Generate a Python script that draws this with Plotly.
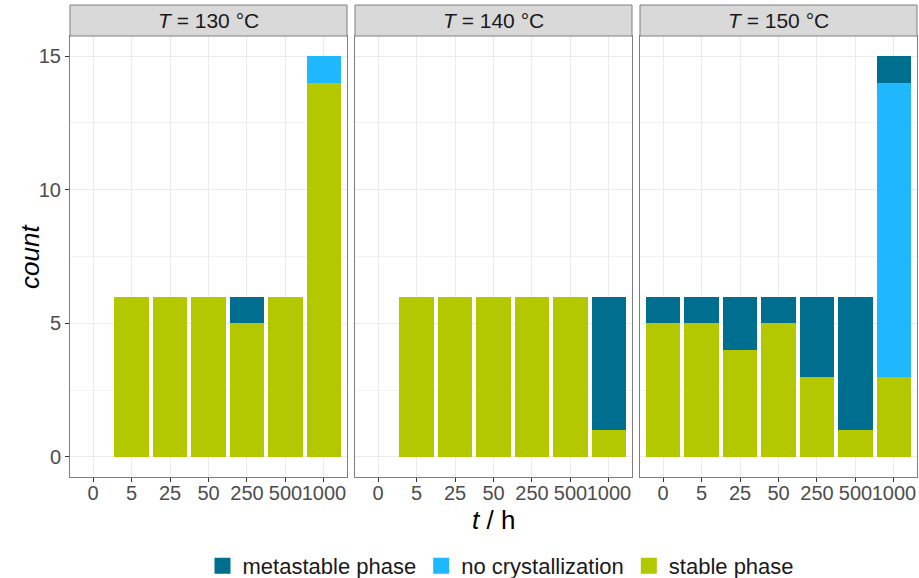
import plotly.graph_objects as go

# Crystallization outcome counts per storage time, one panel per temperature
times = ["0", "5", "25", "50", "250", "500", "1000"]
temperatures = ["130", "140", "150"]

stable_130 = [0, 6, 6, 6, 5, 6, 14]
nocryst_130 = [0, 0, 0, 0, 0, 0, 1]
meta_130 = [0, 0, 0, 0, 1, 0, 0]

stable_140 = [0, 6, 6, 6, 6, 6, 1]
nocryst_140 = [0, 0, 0, 0, 0, 0, 0]
meta_140 = [0, 0, 0, 0, 0, 0, 5]

stable_150 = [5, 5, 4, 5, 3, 1, 3]
nocryst_150 = [0, 0, 0, 0, 0, 0, 11]
meta_150 = [1, 1, 2, 1, 3, 5, 1]

series_names = ["stable phase", "no crystallization", "metastable phase"]
series_colors = ["#b4c800", "#1fb8ff", "#006e8f"]
legend_rank = [3, 2, 1]

panels = [
    [stable_130, nocryst_130, meta_130],
    [stable_140, nocryst_140, meta_140],
    [stable_150, nocryst_150, meta_150],
]

W, H = 919, 578
font_family = "Liberation Sans, Arial, sans-serif"

# panel geometry in pixels
panel_x = [(70, 347), (355, 632), (640, 917)]
plot_top, plot_bottom = 36, 477
strip_top = 5


def px_x(p):
    return p / W


def px_y(p):
    return (H - p) / H


fig = go.Figure()

for i, data in enumerate(panels):
    suffix = "" if i == 0 else str(i + 1)
    for j, vals in enumerate(data):
        fig.add_trace(go.Bar(
            x=times, y=vals,
            name=series_names[j],
            marker=dict(color=series_colors[j], line=dict(width=0)),
            xaxis="x" + suffix, yaxis="y" + suffix,
            legendgroup=series_names[j],
            showlegend=False,
        ))

# legend entries drawn as large square keys
for j, name in enumerate(series_names):
    fig.add_trace(go.Scatter(
        x=[None], y=[None], mode="markers", name=name,
        marker=dict(symbol="square", size=16, color=series_colors[j],
                    line=dict(width=0)),
        legendgroup=name, legendrank=legend_rank[j], showlegend=True,
        xaxis="x", yaxis="y",
    ))

layout = dict(
    width=W, height=H,
    margin=dict(l=0, r=0, t=0, b=0, autoexpand=False),
    paper_bgcolor="white", plot_bgcolor="white",
    barmode="stack", bargap=0.1,
    font=dict(family=font_family, color="#1a1a1a"),
    legend=dict(
        orientation="h", x=px_x(501), xanchor="center",
        y=px_y(566), yanchor="middle",
        font=dict(size=22, color="#1a1a1a"), itemwidth=30,
        itemsizing="trace", traceorder="normal",
    ),
    showlegend=True,
)

shapes = []
annotations = []
for i in range(3):
    suffix = "" if i == 0 else str(i + 1)
    x0, x1 = panel_x[i]
    layout["xaxis" + suffix] = dict(
        domain=[px_x(x0), px_x(x1)],
        anchor="y" + suffix, automargin=False,
        type="category", categoryorder="array", categoryarray=times,
        range=[-0.6, 6.6],
        tickangle=0, ticklabelstandoff=-6,
        showgrid=True, gridcolor="#ebebeb", gridwidth=1,
        showline=True, mirror=True, linecolor="#7f7f7f", linewidth=1,
        ticks="outside", ticklen=4, tickcolor="#333333",
        tickfont=dict(size=20, color="#4d4d4d"),
        zeroline=False, fixedrange=True,
    )
    layout["yaxis" + suffix] = dict(
        domain=[px_y(plot_bottom), px_y(plot_top)],
        anchor="x" + suffix, automargin=False,
        range=[-0.75, 15.75],
        tickvals=[0, 5, 10, 15],
        showticklabels=(i == 0),
        ticks="outside" if i == 0 else "",
        ticklen=4, tickcolor="#333333",
        tickfont=dict(size=20, color="#4d4d4d"),
        showgrid=True, gridcolor="#ebebeb", gridwidth=1,
        minor=dict(tickvals=[2.5, 7.5, 12.5], showgrid=True,
                   gridcolor="#f2f2f2", gridwidth=0.6),
        showline=True, mirror=True, linecolor="#7f7f7f", linewidth=1,
        zeroline=False, fixedrange=True,
    )
    # facet strip
    shapes.append(dict(
        type="rect", xref="paper", yref="paper",
        x0=px_x(x0), x1=px_x(x1), y0=px_y(plot_top), y1=px_y(strip_top),
        fillcolor="#d9d9d9", line=dict(color="#7f7f7f", width=1),
        layer="above",
    ))
    annotations.append(dict(
        xref="paper", yref="paper",
        x=px_x((x0 + x1) / 2), y=px_y((strip_top + plot_top) / 2),
        text="<i>T</i> = %s °C" % temperatures[i],
        showarrow=False, xanchor="center", yanchor="middle",
        font=dict(size=21, color="#1a1a1a"),
    ))

annotations.append(dict(
    xref="paper", yref="paper", x=px_x(493.5), y=px_y(520),
    text="<i>t</i> / h", showarrow=False, xanchor="center", yanchor="middle",
    font=dict(size=26, color="#000000"),
))
annotations.append(dict(
    xref="paper", yref="paper", x=px_x(30), y=px_y(257),
    text="<i>count</i>", showarrow=False, textangle=-90,
    xanchor="center", yanchor="middle",
    font=dict(size=26, color="#000000"),
))

layout["shapes"] = shapes
layout["annotations"] = annotations
fig.update_layout(**layout)

fig.write_html("out.html")
